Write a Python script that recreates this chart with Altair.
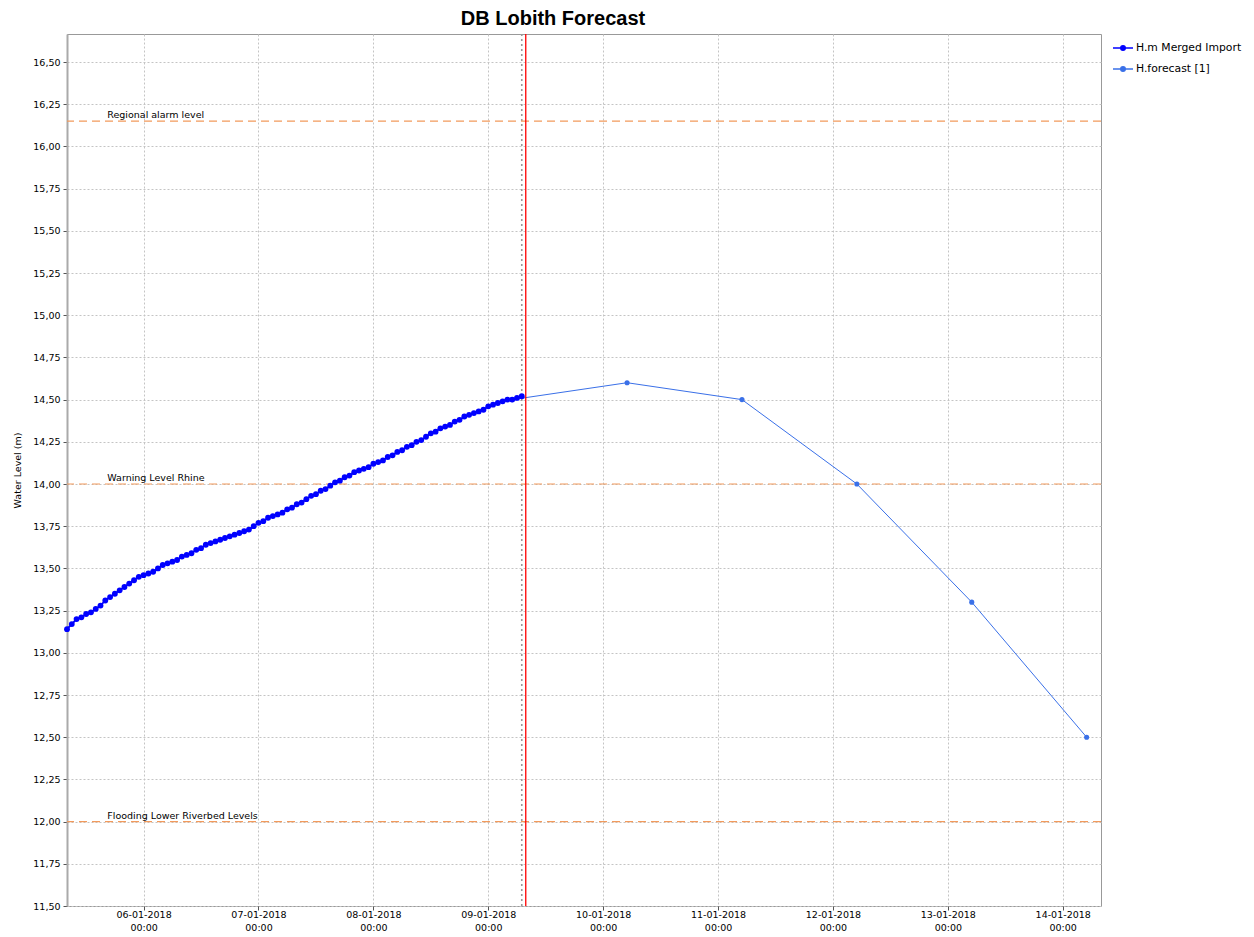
import altair as alt
import pandas as pd

# ---------------- data ----------------
obs_name = "H.m Merged Import"
fc_name = "H.forecast [1]"

obs_start = "2018-01-05 08:00"
obs_values = [
    13.14, 13.17, 13.20, 13.21, 13.23, 13.24, 13.26, 13.28, 13.31, 13.33,
    13.35, 13.37, 13.39, 13.41, 13.43, 13.45, 13.46, 13.47, 13.48, 13.50,
    13.52, 13.53, 13.54, 13.55, 13.57, 13.58, 13.59, 13.61, 13.62, 13.64,
    13.65, 13.66, 13.67, 13.68, 13.69, 13.70, 13.71, 13.72, 13.73, 13.75,
    13.77, 13.78, 13.80, 13.81, 13.82, 13.83, 13.85, 13.86, 13.88, 13.89,
    13.91, 13.93, 13.94, 13.96, 13.97, 13.99, 14.01, 14.02, 14.04, 14.05,
    14.07, 14.08, 14.09, 14.10, 14.12, 14.13, 14.14, 14.16, 14.17, 14.19,
    14.20, 14.22, 14.23, 14.25, 14.26, 14.28, 14.30, 14.31, 14.33, 14.34,
    14.35, 14.37, 14.38, 14.40, 14.41, 14.42, 14.43, 14.44, 14.46, 14.47,
    14.48, 14.49, 14.50, 14.50, 14.51, 14.52,
]
obs_times = pd.date_range(obs_start, periods=len(obs_values), freq="h")

fc_times = ["2018-01-09 05:00", "2018-01-10 05:00", "2018-01-11 05:00",
            "2018-01-12 05:00", "2018-01-13 05:00", "2018-01-14 05:00"]
fc_values = [14.50, 14.60, 14.50, 14.00, 13.30, 12.50]

threshold_names = ["Regional alarm level", "Warning Level Rhine",
                   "Flooding Lower Riverbed Levels"]
threshold_values = [16.15, 14.00, 12.00]
threshold_label_time = "2018-01-05 16:25"

t0_time = "2018-01-09 07:50"        # red "now" line
marker_time = "2018-01-09 07:00"    # dotted marker line

x_tick_days = [6, 7, 8, 9, 10, 11, 12, 13, 14]
y_ticks = [11.50, 11.75, 12.00, 12.25, 12.50, 12.75, 13.00, 13.25, 13.50,
           13.75, 14.00, 14.25, 14.50, 14.75, 15.00, 15.25, 15.50, 15.75,
           16.00, 16.25, 16.50]
y_domain = [11.5, 16.666]

# ---------------- tables ----------------
series_df = pd.concat([
    pd.DataFrame({"time": obs_times, "value": obs_values, "series": obs_name}),
    pd.DataFrame({"time": pd.to_datetime(fc_times), "value": fc_values, "series": fc_name}),
], ignore_index=True)

thr_df = pd.DataFrame({"name": threshold_names, "value": threshold_values,
                       "time": pd.to_datetime([threshold_label_time] * 3)})
vline_df = pd.DataFrame({"time": pd.to_datetime([t0_time])})
mline_df = pd.DataFrame({"time": pd.to_datetime([marker_time])})

FONT = "DejaVu Sans"

x_scale = alt.Scale(domain=[alt.DateTime(year=2018, month=1, date=5, hours=8),
                            alt.DateTime(year=2018, month=1, date=14, hours=8)])
y_scale = alt.Scale(domain=y_domain, nice=False, zero=False)

x_axis = alt.Axis(
    title=None,
    values=[alt.DateTime(year=2018, month=1, date=d) for d in x_tick_days],
    labelExpr="[timeFormat(datum.value, '%d-%m-%Y'), timeFormat(datum.value, '%H:%M')]",
    labelFont=FONT, labelFontSize=9.5, labelColor="#000000", labelLineHeight=13,
    labelPadding=-1, tickSize=4, tickColor="#555555", domain=False,
    grid=True, gridColor="#c4c4c4", gridDash=[2, 2], gridWidth=1,
    labelAngle=0, labelFlush=False, labelOverlap=False,
)
y_axis = alt.Axis(
    title="Water Level (m)", titleFont=FONT, titleFontSize=9.5, titleFontWeight="normal",
    titleColor="#000000", titlePadding=10,
    values=y_ticks,
    labelExpr="replace(format(datum.value, '.2f'), '.', ',')",
    labelFont=FONT, labelFontSize=9.5, labelColor="#000000", labelPadding=3,
    tickSize=4, tickColor="#555555", domain=True, domainColor="#aaaaaa", domainWidth=2,
    grid=True, gridColor="#c4c4c4", gridDash=[2, 2], gridWidth=1,
)

color_scale = alt.Scale(domain=[obs_name, fc_name], range=["#0000ff", "#3a70e8"])
legend_symbol = "M-1,0L1,0 M-0.22,0A0.22,0.22,0,1,0,0.22,0A0.22,0.22,0,1,0,-0.22,0Z"
legend = alt.Legend(title=None, orient="none", legendX=1045, legendY=3,
                    labelFont=FONT, labelFontSize=10.8, labelColor="#000000",
                    symbolType=legend_symbol, symbolSize=400, symbolStrokeWidth=1.6,
                    symbolFillColor="transparent",
                    rowPadding=4, padding=0, labelOffset=2)

base = alt.Chart(series_df)
X = alt.X("time:T", scale=x_scale, axis=x_axis)
Y = alt.Y("value:Q", scale=y_scale, axis=y_axis)
C = alt.Color("series:N", scale=color_scale, legend=legend)

obs_line = base.transform_filter(alt.datum.series == obs_name).mark_line(strokeWidth=1.8).encode(x=X, y=Y, color=C)
fc_line = base.transform_filter(alt.datum.series == fc_name).mark_line(strokeWidth=1.0).encode(x=X, y=Y, color=C)
obs_pts = base.transform_filter(alt.datum.series == obs_name).mark_circle(size=34, opacity=1).encode(x=X, y=Y, color=C)
fc_pts = base.transform_filter(alt.datum.series == fc_name).mark_circle(size=26, opacity=1).encode(x=X, y=Y, color=C)

thr_rules = alt.Chart(thr_df).mark_rule(color="#f29a5c", strokeDash=[8, 5], strokeWidth=1.2).encode(
    y="value:Q")
thr_text = alt.Chart(thr_df).mark_text(align="left", baseline="bottom", dy=-1,
                                       font=FONT, fontSize=9.5, color="#000000").encode(
    x="time:T", y="value:Q", text="name:N")

mline = alt.Chart(mline_df).mark_rule(color="#999999", strokeDash=[2, 3], strokeWidth=1.6).encode(x="time:T")
vline = alt.Chart(vline_df).mark_rule(color="#ff0000", strokeWidth=1.3).encode(x="time:T")

chart = alt.layer(mline, thr_rules, thr_text, fc_line, obs_line, fc_pts, obs_pts, vline).properties(
    width=1034, height=872,
    title=alt.TitleParams("DB Lobith Forecast", font="Liberation Sans", fontSize=20,
                          fontWeight="bold", color="#000000", anchor="middle", dx=-31, offset=4),
    autosize=alt.AutoSizeParams(type="none"),
    padding={"left": 59, "top": 26, "right": 145, "bottom": 31},
).configure_view(stroke="#999999", strokeWidth=1)

chart.save("out.html", embed_options={"renderer": "svg", "actions": False})
